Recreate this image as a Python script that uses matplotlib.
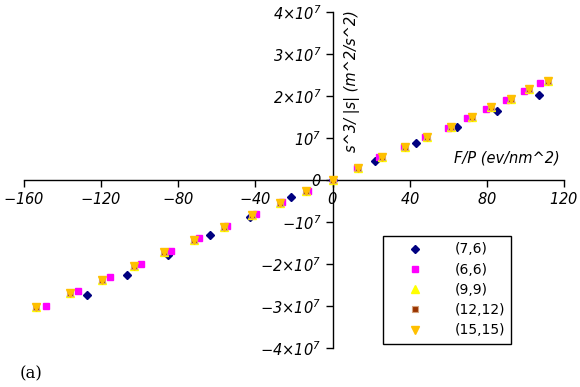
import matplotlib
matplotlib.use("Agg")
import matplotlib.pyplot as plt

plt.rcParams['font.family'] = ['DejaVu Sans']
plt.rcParams['mathtext.fontset'] = 'custom'
plt.rcParams['mathtext.rm'] = 'DejaVu Sans:italic'
plt.rcParams['mathtext.it'] = 'DejaVu Sans:italic'
plt.rcParams['axes.unicode_minus'] = True

# ---- data (F/P in ev/nm^2, y in units of 1e7 m^2/s^2) ----
x_76 = [-127.5, -106.4, -85.5, -63.6, -42.8, -21.3, 0, 21.8, 43.0, 64.3, 85.5, 106.8]
y_76 = [-2.73, -2.25, -1.79, -1.32, -0.87, -0.41, 0, 0.46, 0.89, 1.27, 1.64, 2.03]

x_66 = [-148.8, -131.8, -115.6, -99.5, -84.0, -69.0, -54.6, -39.9, -26.0, -13.0, 0,
        12.8, 24.2, 36.8, 47.7, 59.6, 69.5, 79.3, 89.7, 99.0, 107.8]
y_66 = [-2.99, -2.65, -2.32, -2.01, -1.70, -1.39, -1.10, -0.81, -0.53, -0.26, 0,
        0.29, 0.55, 0.79, 1.03, 1.24, 1.48, 1.70, 1.91, 2.13, 2.31]

x_big = [-153.6, -136.3, -119.4, -103.2, -87.5, -71.7, -56.4, -41.6, -27.1, -13.6, 0,
         13.0, 25.4, 37.3, 49.2, 61.2, 72.1, 82.4, 92.3, 102.1, 111.5]
y_big = [-3.03, -2.69, -2.37, -2.04, -1.72, -1.42, -1.13, -0.83, -0.54, -0.26, 0,
         0.29, 0.555, 0.79, 1.03, 1.27, 1.51, 1.745, 1.94, 2.17, 2.36]
x_99, y_99 = x_big, y_big
x_1212, y_1212 = x_big, y_big
x_1515, y_1515 = x_big, y_big

scale = 1e7
xticks = [-160, -120, -80, -40, 0, 40, 80, 120]
xticklabels = ['$-160$', '$-120$', '$-80$', '$-40$', '$0$', '$40$', '$80$', '$120$']
yticks = [-4, -3, -2, -1, 0, 1, 2, 3, 4]
yticklabels = ['$-4{\\times}10^{7}$', '$-3{\\times}10^{7}$', '$-2{\\times}10^{7}$', '$-10^{7}$', '$0$',
               '$10^{7}$', '$2{\\times}10^{7}$', '$3{\\times}10^{7}$', '$4{\\times}10^{7}$']
labels = ['(7,6)', '(6,6)', '(9,9)', '(12,12)', '(15,15)']

fig = plt.figure(figsize=(5.8, 3.87), dpi=100)
ax = fig.add_axes([24/580, 1-348/387, 540/580, 336/387])

ax.plot(x_76, [v*scale for v in y_76], linestyle='none', marker='D', ms=3.8,
        color='#000080', mec='#000080', label=labels[0], zorder=3)
ax.plot(x_66, [v*scale for v in y_66], linestyle='none', marker='s', ms=5.0,
        color='#FF00FF', mec='#FF00FF', label=labels[1], zorder=3)
ax.plot(x_99, [v*scale for v in y_99], linestyle='none', marker='^', ms=5.5,
        color='#FFFF00', mec='#FFFF00', label=labels[2], zorder=3)
ax.plot(x_1212, [v*scale for v in y_1212], linestyle='none', marker='s', ms=5.0,
        color='#993300', mec='#D4A27C', mew=0.8, label=labels[3], zorder=3)
ax.plot(x_1515, [v*scale for v in y_1515], linestyle='none', marker='v', ms=5.3,
        color='#FFC000', mec='#FFC000', label=labels[4], zorder=3)

ax.set_xlim(-160, 120)
ax.set_ylim(-4*scale, 4*scale)

for s in ['right', 'top']:
    ax.spines[s].set_visible(False)
ax.spines['left'].set_position(('data', 0))
ax.spines['bottom'].set_position(('data', 0))
ax.spines['left'].set_linewidth(1.0)
ax.spines['bottom'].set_linewidth(1.0)

ax.set_xticks(xticks)
ax.set_xticklabels(xticklabels, fontsize=10.5)
ax.set_yticks([v*scale for v in yticks])
ax.set_yticklabels(yticklabels, fontsize=10.5)
ax.tick_params(direction='out', length=5, width=1, pad=3)

ax.text(0.608, 0.795, 's^3/ |s| (m^2/s^2)', transform=ax.transAxes, rotation=90,
        ha='center', va='center', fontsize=10.5, style='italic')
ax.text(0.894, 0.565, 'F/P (ev/nm^2)', transform=ax.transAxes,
        ha='center', va='center', fontsize=10.5, style='italic')

leg = ax.legend(loc='upper left', bbox_to_anchor=(0.665, 0.333), borderaxespad=0,
                fancybox=False, edgecolor='black', framealpha=1, fontsize=10,
                handlelength=3.7, handletextpad=1.0, labelspacing=0.45, borderpad=0.45)
leg.get_frame().set_linewidth(1.0)

fig.text(20/580, 1-374/387, '(a)', fontsize=12, family='DejaVu Serif',
         ha='left', va='center')

fig.savefig('out.png', dpi=100)
